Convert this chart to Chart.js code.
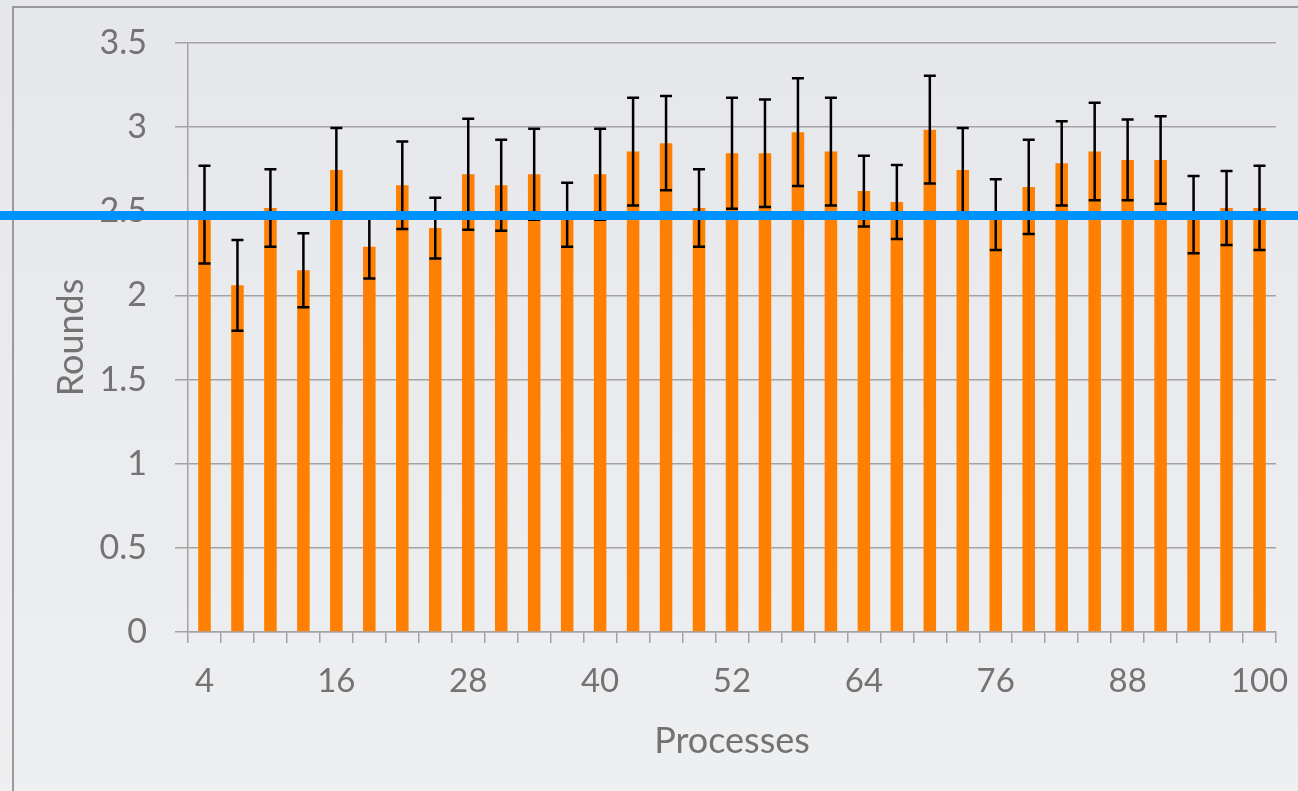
<!DOCTYPE html>
<html>
<head>
<meta charset="utf-8">
<script src="https://cdn.jsdelivr.net/npm/chart.js@4/dist/chart.umd.min.js"></script>
<style>
    body { margin: 0; background: #e9eaed; }
    #wrap { width: 1298px; height: 791px; }
</style>
</head>
<body>
<div id="wrap"><canvas id="myChart" width="1298" height="791"></canvas></div>
<script>
// Processes on the x axis
var processes = [4, 7, 10, 13, 16, 19, 22, 25, 28, 31, 34, 37, 40, 43, 46, 49, 52,
    55, 58, 61, 64, 67, 70, 73, 76, 79, 82, 85, 88, 91, 94, 97, 100];
// mean rounds per run
var rounds = [2.48, 2.06, 2.52, 2.15, 2.745, 2.29, 2.655, 2.40, 2.72, 2.655, 2.72,
    2.48, 2.72, 2.855, 2.905, 2.52, 2.845, 2.845, 2.97, 2.855, 2.62, 2.555,
    2.985, 2.745, 2.48, 2.645, 2.785, 2.855, 2.805, 2.805, 2.48, 2.52, 2.52];
// +/- error
var errors = [0.29, 0.27, 0.23, 0.22, 0.25, 0.19, 0.26, 0.18, 0.33, 0.27, 0.27,
    0.19, 0.27, 0.32, 0.28, 0.23, 0.33, 0.32, 0.32, 0.32, 0.21, 0.22,
    0.32, 0.25, 0.21, 0.28, 0.25, 0.29, 0.24, 0.26, 0.23, 0.22, 0.25];
// blue reference line
var refLine = 2.475;
var yTicks = [0, 0.5, 1, 1.5, 2, 2.5, 3, 3.5];

var textColor = '#737373';
var gridColor = '#a3a3a3';

const backdrop = {
    id: 'backdrop',
    beforeDraw(chart) {
        const c = chart.ctx;
        const g = c.createLinearGradient(0, 0, 0, chart.height);
        g.addColorStop(0, '#e6e7ea');
        g.addColorStop(1, '#eeeff1');
        c.save();
        c.fillStyle = g;
        c.fillRect(0, 0, chart.width, chart.height);
        // frame (left + top edges visible)
        c.strokeStyle = '#9a9a9a';
        c.lineWidth = 2;
        c.beginPath();
        c.moveTo(13, chart.height);
        c.lineTo(13, 7);
        c.lineTo(chart.width, 7);
        c.stroke();
        c.restore();
    }
};

const errorBars = {
    id: 'errorBars',
    afterDatasetsDraw(chart) {
        const c = chart.ctx;
        const y = chart.scales.y;
        const meta = chart.getDatasetMeta(0);
        c.save();
        c.strokeStyle = '#000';
        c.lineWidth = 2.5;
        meta.data.forEach((bar, i) => {
            const hi = y.getPixelForValue(rounds[i] + errors[i]);
            const lo = y.getPixelForValue(rounds[i] - errors[i]);
            const x = bar.x;
            c.beginPath();
            c.moveTo(x, hi); c.lineTo(x, lo);
            c.moveTo(x - 6, hi); c.lineTo(x + 6, hi);
            c.moveTo(x - 6, lo); c.lineTo(x + 6, lo);
            c.stroke();
        });
        c.restore();
    },
    afterDraw(chart) {
        // full-width blue line on top of everything
        const c = chart.ctx;
        const py = chart.scales.y.getPixelForValue(refLine);
        c.save();
        c.strokeStyle = '#0093ff';
        c.lineWidth = 9;
        c.beginPath();
        c.moveTo(0, py);
        c.lineTo(chart.width, py);
        c.stroke();
        c.restore();
    }
};

const ctx = document.getElementById('myChart');
new Chart(ctx, {
    type: 'bar',
    data: {
        labels: processes,
        datasets: [{
            label: 'Rounds',
            data: rounds,
            backgroundColor: '#ff8000',
            borderWidth: 0,
            barPercentage: 0.38,
            categoryPercentage: 1
        }]
    },
    options: {
        responsive: false,
        animation: false,
        devicePixelRatio: 1,
        layout: { padding: { left: 0, top: 43, right: 22, bottom: 0 } },
        plugins: { legend: { display: false }, tooltip: { enabled: false } },
        scales: {
            x: {
                offset: true,
                grid: { display: true, drawOnChartArea: false, drawTicks: true, tickLength: 11, color: gridColor, lineWidth: 1.5, offset: true },
                border: { display: true, color: gridColor, width: 1.5 },
                ticks: {
                    autoSkip: false,
                    maxRotation: 0,
                    padding: 19,
                    color: textColor,
                    font: { family: 'Lato', size: 33 },
                    callback: function (val, i) { return i % 4 === 0 ? processes[i] : ''; }
                },
                title: { display: true, text: 'Processes', color: textColor, font: { family: 'Lato', size: 36 }, padding: { top: 0, bottom: 28 } },
                afterFit: function (s) { s.height = 159; s.paddingLeft = 0; s.paddingRight = 0; }
            },
            y: {
                min: 0,
                max: 3.5,
                afterBuildTicks: function (s) { s.ticks = yTicks.map(v => ({ value: v })); },
                grid: { color: gridColor, lineWidth: 1.5, tickLength: 13 },
                border: { display: true, color: gridColor, width: 1.5 },
                ticks: {
                    padding: 28,
                    color: textColor,
                    font: { family: 'Lato', size: 34 },
                    callback: function (v) { return String(v); }
                },
                title: { display: true, text: 'Rounds', color: textColor, font: { family: 'Lato', size: 36 }, padding: { top: 50, bottom: 0 } },
                afterFit: function (s) { s.width = 188; s.paddingTop = 0; s.paddingBottom = 0; }
            }
        }
    },
    plugins: [backdrop, errorBars]
});
</script>
</body>
</html>
